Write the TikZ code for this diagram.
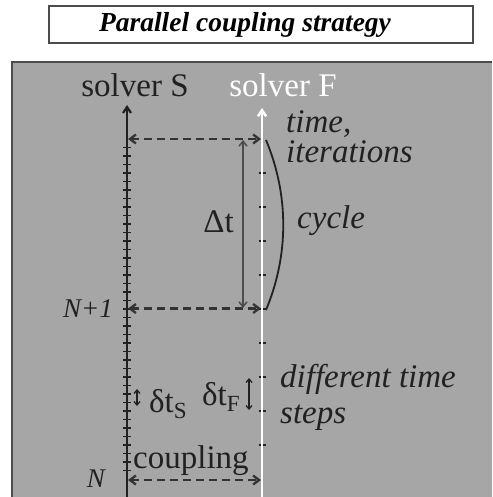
\documentclass[tikz,border=0pt]{standalone}
\usepackage{fontspec}
\setmainfont{Liberation Serif}
\usetikzlibrary{arrows.meta}
\definecolor{panelg}{gray}{0.65}
\definecolor{inkg}{gray}{0.13}
\definecolor{dashg}{gray}{0.2}
\definecolor{rimg}{gray}{0.3}

\begin{document}
\begin{tikzpicture}[
  x=1pt, y=-1pt,
  lbl/.style={font=\fontsize{33}{33}\selectfont, text=inkg, inner sep=0pt},
  ilbl/.style={lbl, font=\fontsize{33}{29}\selectfont\itshape, align=left},
  nlbl/.style={lbl, font=\fontsize{27}{27}\selectfont\itshape},
  framebox/.style={draw=rimg, line width=2pt, fill=white},
  titletext/.style={inner sep=0pt, font=\fontsize{27.5}{27.5}\selectfont\bfseries\itshape},
  saxis/.style={-{Straight Barb[length=6pt,width=8pt]}, line width=2.2pt, draw=inkg},
  faxis/.style={-{Straight Barb[length=6pt,width=8pt]}, line width=2.5pt, draw=white},
  link/.style={{Straight Barb[length=6pt,width=9pt]}-{Straight Barb[length=6pt,width=9pt]},
    dash pattern=on 8pt off 5pt, line width=2.3pt, draw=dashg},
  span/.style={{Straight Barb[length=5pt,width=8pt]}-{Straight Barb[length=5pt,width=8pt]},
    line width=1.5pt, draw=rimg},
  small/.style={{Straight Barb[length=3.5pt,width=6pt]}-{Straight Barb[length=3.5pt,width=6pt]},
    line width=1.3pt, draw=inkg},
  stick/.style={line width=1.5pt, draw=inkg},
  ftick/.style={line width=1.2pt, draw=inkg}
]
\useasboundingbox (0,0) rectangle (492,497);

% title and gray panel
\draw[framebox] (49,6) rectangle (473,43);
\node[titletext] (title) at (245,24.5) {Parallel coupling strategy};
\fill[panelg] (12,62) rectangle (492,497);
\draw[rimg, line width=2.5pt] (12,497) -- (12,62) -- (492,62);

% the two solvers
\coordinate (sbot) at (127,497);
\coordinate (stop) at (127,105);
\coordinate (fbot) at (262,497);
\coordinate (ftop) at (262,108);

\foreach \k in {1,...,9}
  \draw[ftick] (258.5,139+34*\k) -- ++(7,0);
\draw[faxis] (fbot) -- (ftop);
\draw[saxis] (sbot) -- (stop);
\foreach \k in {1,...,39}
  \draw[stick] (123,139+8.5*\k) -- ++(8,0);

\node[lbl, anchor=base] (solS) at (135,97) {solver S};
\node[lbl, anchor=base, text=white] (solF) at (283,97) {solver F};

% coupling instants
\coordinate (s1) at (128,139);
\coordinate (f1) at (261,139);
\coordinate (s2) at (128,308.5);
\coordinate (f2) at (261,308.5);
\coordinate (s0) at (128,480);
\coordinate (f0) at (261,480);
\draw[link] (s1) -- (f1);
\draw[link] (s2) -- (f2);
\draw[link] (s0) -- (f0);

\node[nlbl, anchor=base east] (np1) at (113,317) {N+1};
\node[nlbl, anchor=base east] (n0) at (105,487) {N};
\node[lbl, anchor=base west] (coup) at (133,468) {coupling};

% macro step and cycle
\coordinate (dtop) at (243,140);
\coordinate (dbot) at (243,308);
\draw[span] (dtop) -- (dbot);
\node[lbl, anchor=base east] (dt) at (234,232) {Δt};

\coordinate (c1) at (266,140);
\coordinate (c2) at (266,310);
\draw[line width=1.8pt, inkg] (c1) .. controls (289,195) and (289,255) .. (c2);
\node[ilbl, anchor=base west] (cyc) at (297,228) {cycle};
\node[ilbl, anchor=base west] (tim) at (286,162) {time,\\iterations};

% the two time steps
\coordinate (ds1) at (137,389);
\coordinate (ds2) at (137,406);
\draw[small] (ds1) -- (ds2);
\node[lbl, anchor=base west] (dts) at (149,412) {δt\textsubscript{S}};
\coordinate (df1) at (249,378);
\coordinate (df2) at (249,410);
\draw[small] (df1) -- (df2);
\node[lbl, anchor=base west] (dtf) at (202,405) {δt\textsubscript{F}};
\node[ilbl, anchor=base west, font=\fontsize{33}{36}\selectfont\itshape] (dif) at (280,423)
  {different time\\steps};
\end{tikzpicture}
\end{document}
